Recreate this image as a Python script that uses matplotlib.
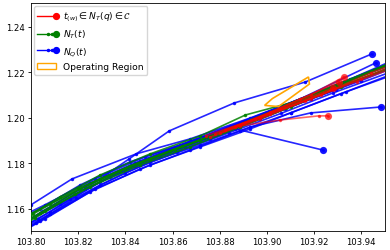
import matplotlib
matplotlib.use("Agg")
import matplotlib.pyplot as plt
from matplotlib.lines import Line2D
from matplotlib.patches import Patch, Polygon
from matplotlib.legend_handler import HandlerBase

# ---- data: N_Q(t) trajectories (blue) ----
nq_x = [
    [103.7868, 103.8000, 103.8174, 103.8446, 103.8675, 103.8930, 103.9185, 103.9567],
    [103.7868, 103.8123, 103.8293, 103.8416, 103.8586, 103.8862, 103.9163, 103.9444],
    [103.7868, 103.8038, 103.8251, 103.8463, 103.8675, 103.8887, 103.9142, 103.9461],
    [103.7868, 103.8081, 103.8293, 103.8505, 103.8718, 103.8930, 103.9185, 103.9482],
    [103.7868, 103.8059, 103.8272, 103.8505, 103.8718, 103.8930, 103.9100, 103.9312, 103.9652],
    [103.7868, 103.8081, 103.8293, 103.8505, 103.8718, 103.8866, 103.9236],
    [103.7868, 103.8038, 103.8208, 103.8420, 103.8633, 103.8845, 103.9057, 103.9270, 103.9567],
    [103.7868, 103.8017, 103.8229, 103.8442, 103.8654, 103.8866, 103.9078, 103.9291, 103.9567],
    [103.7868, 103.8038, 103.8251, 103.8463, 103.8675, 103.8887, 103.9100, 103.9333, 103.9567],
    [103.7868, 103.8059, 103.8272, 103.8484, 103.8696, 103.8909, 103.9121, 103.9354, 103.9567],
    [103.7868, 103.8030, 103.8166, 103.8335, 103.8548, 103.8760, 103.8972, 103.9185, 103.9397, 103.9609],
    [103.7868, 103.8020, 103.8190, 103.8400, 103.8620, 103.8840, 103.9060, 103.9280, 103.9600],
    [103.7868, 103.8050, 103.8230, 103.8440, 103.8660, 103.8880, 103.9090, 103.9310, 103.9600],
]
nq_y = [
    [1.1534, 1.1618, 1.1732, 1.1842, 1.1908, 1.2000, 1.2101, 1.2251],
    [1.1486, 1.1622, 1.1732, 1.1820, 1.1943, 1.2066, 1.2158, 1.2281],
    [1.1477, 1.1582, 1.1714, 1.1811, 1.1895, 1.1978, 1.2084, 1.2242],
    [1.1459, 1.1578, 1.1705, 1.1807, 1.1881, 1.1960, 1.2022, 1.2048],
    [1.1446, 1.1556, 1.1688, 1.1793, 1.1873, 1.1952, 1.2022, 1.2106, 1.2233],
    [1.1468, 1.1587, 1.1719, 1.1820, 1.1899, 1.1952, 1.1859],
    [1.1503, 1.1600, 1.1705, 1.1807, 1.1882, 1.1965, 1.2048, 1.2136, 1.2259],
    [1.1486, 1.1565, 1.1688, 1.1789, 1.1873, 1.1956, 1.2040, 1.2123, 1.2242],
    [1.1451, 1.1547, 1.1675, 1.1776, 1.1859, 1.1943, 1.2022, 1.2114, 1.2207],
    [1.1521, 1.1618, 1.1732, 1.1829, 1.1903, 1.1987, 1.2075, 1.2171, 1.2268],
    [1.1468, 1.1556, 1.1644, 1.1741, 1.1829, 1.1908, 1.1996, 1.2084, 1.2163, 1.2251],
    [1.1440, 1.1538, 1.1650, 1.1760, 1.1850, 1.1935, 1.2020, 1.2110, 1.2230],
    [1.1470, 1.1590, 1.1700, 1.1800, 1.1890, 1.1970, 1.2055, 1.2150, 1.2262],
]

# ---- data: N_T(t) trajectories (green) ----
nt_x = [
    [103.7868, 103.7996, 103.8123, 103.8293, 103.8505, 103.8718, 103.8909, 103.9100, 103.9312, 103.9567],
    [103.7868, 103.8038, 103.8208, 103.8378, 103.8590, 103.8803, 103.9015, 103.9227, 103.9567],
    [103.7868, 103.8017, 103.8187, 103.8399, 103.8611, 103.8824, 103.9036, 103.9248, 103.9567],
    [103.7868, 103.8059, 103.8251, 103.8463, 103.8675, 103.8887, 103.9100, 103.9312, 103.9567],
    [103.7868, 103.8081, 103.8293, 103.8505, 103.8718, 103.8930, 103.9142, 103.9354, 103.9567],
    [103.7868, 103.8010, 103.8200, 103.8420, 103.8640, 103.8860, 103.9080, 103.9300, 103.9567],
]
nt_y = [
    [1.1495, 1.1574, 1.1653, 1.1749, 1.1842, 1.1921, 1.2013, 1.2066, 1.2154, 1.2259],
    [1.1477, 1.1582, 1.1688, 1.1767, 1.1855, 1.1934, 1.2022, 1.2114, 1.2251],
    [1.1468, 1.1560, 1.1666, 1.1776, 1.1859, 1.1943, 1.2031, 1.2119, 1.2233],
    [1.1486, 1.1591, 1.1697, 1.1793, 1.1873, 1.1960, 1.2048, 1.2136, 1.2242],
    [1.1512, 1.1622, 1.1732, 1.1820, 1.1903, 1.1991, 1.2079, 1.2163, 1.2255],
    [1.1500, 1.1578, 1.1690, 1.1790, 1.1876, 1.1958, 1.2045, 1.2140, 1.2262],
]

# ---- data: t_(w) in N_T(q) in C (red) ----
tw_x = [
    [103.8781, 103.8972, 103.9142, 103.9304],
    [103.8824, 103.9015, 103.9185, 103.9325],
    [103.8866, 103.9057, 103.9282],
    [103.8760, 103.8972, 103.9185, 103.9397, 103.9609],
    [103.8803, 103.9015, 103.9227, 103.9440, 103.9652],
    [103.8887, 103.9057, 103.9219, 103.9257],
    [103.8740, 103.8950, 103.9160, 103.9380, 103.9620],
]
tw_y = [
    [1.1930, 1.2004, 1.2084, 1.2158],
    [1.1947, 1.2026, 1.2101, 1.2180],
    [1.1960, 1.2040, 1.2132],
    [1.1916, 1.1996, 1.2084, 1.2171, 1.2259],
    [1.1934, 1.2018, 1.2101, 1.2198, 1.2281],
    [1.1965, 1.1991, 1.2009, 1.2009],
    [1.1922, 1.1995, 1.2075, 1.2160, 1.2250],
]

# ---- operating region polygon ----
region_x = [103.8990, 103.9023, 103.9176, 103.9180, 103.9049]
region_y = [1.2055, 1.2085, 1.2180, 1.2149, 1.2050]

labels = [r"$t_{(w)} \in N_T(q) \in \mathcal{C}$", r"$N_T(t)$", r"$N_Q(t)$", "Operating Region"]

plt.rcParams["font.size"] = 6.1
plt.rcParams["axes.linewidth"] = 0.6
plt.rcParams["xtick.major.width"] = 0.6
plt.rcParams["ytick.major.width"] = 0.6
plt.rcParams["xtick.major.size"] = 2.2
plt.rcParams["ytick.major.size"] = 2.2

fig = plt.figure(figsize=(3.9, 2.51), dpi=100)
ax = fig.add_axes([0.0795, 0.0757, 0.9075, 0.9083])

def draw(xs, ys, color, alpha=1.0, z=2):
    for x, y in zip(xs, ys):
        ax.plot(x, y, color=color, lw=1.2, marker='.', ms=3, alpha=alpha, zorder=z)
        ax.plot(x[-1], y[-1], color=color, marker='o', ms=4.2, alpha=alpha, zorder=z)

draw(nq_x, nq_y, 'blue', 0.85, 2)
draw(nt_x, nt_y, 'green', 0.85, 3)
draw(tw_x, tw_y, 'red', 0.6, 4)

ax.add_patch(Polygon(list(zip(region_x, region_y)), closed=True, fill=False,
                     edgecolor='orange', lw=1.2, zorder=5))

ax.set_xlim(103.80, 103.95)
ax.set_ylim(1.1503, 1.2505)
ax.set_xticks([103.80, 103.82, 103.84, 103.86, 103.88, 103.90, 103.92, 103.94])
ax.set_yticks([1.16, 1.18, 1.20, 1.22, 1.24])
ax.xaxis.set_major_formatter(matplotlib.ticker.FormatStrFormatter('%.2f'))
ax.yaxis.set_major_formatter(matplotlib.ticker.FormatStrFormatter('%.2f'))
ax.tick_params(pad=2)


class EndDot(HandlerBase):
    def __init__(self, color, small, alpha=1.0):
        super().__init__()
        self.color = color
        self.small = small
        self.alpha = alpha

    def create_artists(self, legend, orig_handle, xdescent, ydescent, width, height, fontsize, trans):
        y = height / 2 - ydescent
        x0, x1 = -xdescent, width - xdescent
        arts = []
        ln = Line2D([x0, x1], [y, y], color=self.color, lw=1.0)
        ln.set_transform(trans)
        arts.append(ln)
        if self.small:
            sm = Line2D([x0 + 0.55 * (x1 - x0), x0 + 0.8 * (x1 - x0)], [y, y], ls='none',
                        marker='.', ms=3, color=self.color)
            sm.set_transform(trans)
            arts.append(sm)
        end = Line2D([x1], [y], ls='none', marker='o', ms=4.2, color=self.color)
        end.set_transform(trans)
        arts.append(end)
        return arts


h_red = Line2D([], [], color='red')
h_green = Line2D([], [], color='green')
h_blue = Line2D([], [], color='blue')
h_reg = Patch(facecolor='none', edgecolor='orange', lw=1.0)
ax.legend([h_red, h_green, h_blue, h_reg], labels, loc='upper left',
          fontsize=6.6, handler_map={h_red: EndDot('red', False), h_green: EndDot('green', True),
                                     h_blue: EndDot('blue', True)},
          borderaxespad=0.3, framealpha=0.8)

fig.savefig("out.png", dpi=100)
